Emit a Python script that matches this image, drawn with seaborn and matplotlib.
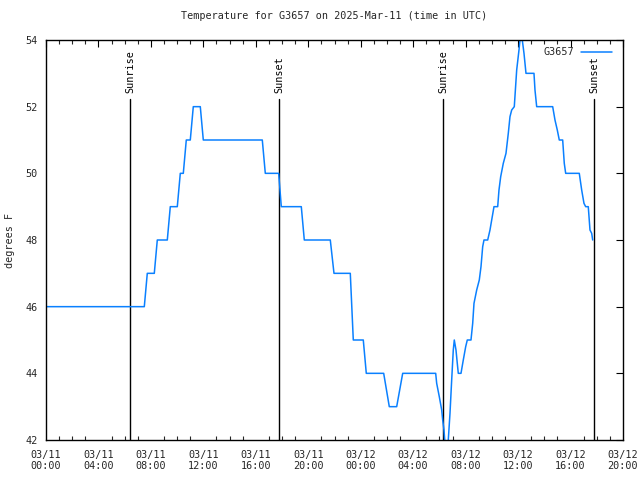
import matplotlib
matplotlib.use("Agg")
import matplotlib.pyplot as plt
import matplotlib.dates as mdates
import seaborn as sns
import pandas as pd
import numpy as np

# ---- data (hours since 2025-03-11 00:00 UTC, degrees F) ----
hours = [0.000, 7.496, 7.724, 8.258, 8.487, 9.250, 9.478, 10.012, 10.241, 10.470,
         10.698, 11.003, 11.232, 11.766, 11.995, 16.494, 16.723, 17.744, 17.943, 19.468,
         19.697, 21.679, 21.961, 23.204, 23.433, 24.195, 24.424, 25.751, 26.178, 26.742,
         27.200, 29.716, 29.792, 29.991, 30.174, 30.250, 30.349, 30.502, 30.677, 30.807,
         30.936, 31.058, 31.135, 31.264, 31.363, 31.440, 31.646, 31.821, 32.004, 32.126,
         32.408, 32.538, 32.637, 32.843, 33.041, 33.171, 33.300, 33.399, 33.682, 33.857,
         33.987, 34.162, 34.444, 34.543, 34.673, 34.871, 35.077, 35.253, 35.382, 35.512,
         35.710, 35.893, 36.068, 36.145, 36.221, 36.320, 36.450, 36.602, 37.212, 37.288,
         37.418, 38.638, 38.813, 38.989, 39.141, 39.400, 39.522, 39.629, 40.666, 40.849,
         41.024, 41.154, 41.352, 41.482, 41.612, 41.688]
temps = [46, 46, 47, 47, 48, 48, 49, 49, 50, 50,
         51, 51, 52, 52, 51, 51, 50, 50, 49, 49,
         48, 48, 47, 47, 45, 45, 44, 44, 43, 43,
         44, 44, 43.7, 43.3, 42.9, 42.6, 42.3, 41.5, 42.0, 42.8,
         43.8, 44.7, 45.0, 44.7, 44.3, 44, 44, 44.4, 44.8, 45,
         45, 45.5, 46.1, 46.5, 46.8, 47.2, 47.8, 48, 48, 48.3,
         48.6, 49, 49, 49.5, 49.9, 50.3, 50.6, 51.2, 51.7, 51.9,
         52, 53.1, 53.7, 54.0, 54.4, 54.0, 53.6, 53, 53, 52.5,
         52, 52, 51.6, 51.3, 51, 51, 50.3, 50, 50, 49.5,
         49.1, 49, 49, 48.3, 48.2, 48]
sun_labels = ["Sunrise", "Sunset", "Sunrise", "Sunset"]
sun_times = ["2025-03-11 06:24", "2025-03-11 17:46", "2025-03-12 06:16", "2025-03-12 17:47"]
station = "G3657"
title = "Temperature for G3657 on 2025-Mar-11 (time in UTC)"

start = pd.Timestamp("2025-03-11 00:00")
df = pd.DataFrame({"time": start + pd.to_timedelta(hours, unit="h"),
                   "temp": temps, "station": station})

sns.set_style("white")
plt.rcParams["font.family"] = ["DejaVu Sans Mono"]
FS = 7.3
plt.rcParams["font.size"] = FS

fig = plt.figure(figsize=(6.4, 4.8), dpi=100)
ax = fig.add_axes([46/640, 1-440/480, (623-46)/640, 400/480])

sns.lineplot(data=df, x="time", y="temp", hue="station", palette=["#0a80ff"],
             linewidth=1.1, ax=ax, estimator=None, sort=False)

for lab, t in zip(sun_labels, sun_times):
    tt = pd.Timestamp(t)
    ax.plot([tt, tt], [42, 52.22], color="black", linewidth=1.0, zorder=1)
    ax.text(tt, 52.42, lab, rotation=90, ha="center", va="bottom", fontsize=FS,
            color="black")

ax.set_xlim(start, start + pd.Timedelta(hours=44))
ax.set_ylim(42, 54)
ax.set_yticks(np.arange(42, 55, 2))
ax.xaxis.set_major_locator(mdates.HourLocator(byhour=[0, 4, 8, 12, 16, 20]))
ax.xaxis.set_minor_locator(mdates.HourLocator())
ax.xaxis.set_major_formatter(mdates.DateFormatter("%m/%d\n%H:%M"))

ax.tick_params(axis="both", which="major", direction="in", length=5, width=0.8,
               top=True, right=True, labelsize=FS, color="black")
ax.tick_params(axis="x", which="minor", direction="in", length=3, width=0.8,
               top=True, bottom=True)
ax.tick_params(axis="x", which="major", pad=7)
ax.tick_params(axis="y", which="major", pad=6)
for s in ax.spines.values():
    s.set_color("black")
    s.set_linewidth(1.0)

ax.set_xlabel("")
ax.set_ylabel("degrees F", fontsize=FS)
ax.yaxis.set_label_coords(-0.053, 0.5)
ax.set_title(title, fontsize=FS, pad=15)

leg = ax.legend(loc="upper right", frameon=False, markerfirst=False,
                handlelength=3.0, handletextpad=0.7, fontsize=FS, borderaxespad=0.3,
                bbox_to_anchor=(0.993, 1.0))
for line in leg.get_lines():
    line.set_linewidth(1.1)

fig.savefig("out.png", dpi=100)
